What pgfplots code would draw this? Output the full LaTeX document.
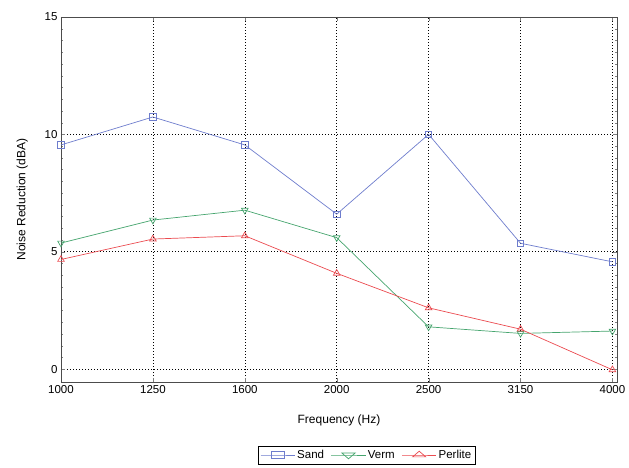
\documentclass[border=0pt]{standalone}
\usepackage{pgfplots}
\pgfplotsset{compat=1.18}
\usepackage{fontspec}
\setmainfont{Liberation Sans}
\definecolor{sandc}{RGB}{110,125,205}
\definecolor{vermc}{RGB}{70,165,110}
\definecolor{perlc}{RGB}{235,75,80}
\begin{document}
\begin{tikzpicture}
\begin{axis}[
  name=ax,
  scale only axis,
  width=556pt, height=365pt,
  xmin=0, xmax=6.05,
  ymin=-0.55, ymax=15,
  xtick={0,1,2,3,4,5,6},
  xticklabels={1000,1250,1600,2000,2500,3150,4000},
  ytick={0,5,10,15},
  minor y tick num=9,
  tick align=inside,
  major tick length=4pt,
  minor tick length=2pt,
  axis line style={black!70, line width=0.8pt},
  grid=major,
  grid style={black, dash pattern=on 1pt off 2pt, line width=0.6pt},
  tick label style={font=\fontsize{11.5}{12}\selectfont},
  /pgf/number format/assume math mode=true,
  xlabel={Frequency (Hz)},
  ylabel={Noise Reduction (dBA)},
  label style={font=\fontsize{12}{13}\selectfont},
  xlabel style={yshift=-14pt},
  ylabel style={yshift=10pt},
  legend style={at={(0.55,-0.175)}, anchor=north, legend columns=-1,
    font=\fontsize{11.5}{12}\selectfont, draw=black, inner sep=2pt,
    /tikz/every even column/.append style={column sep=5pt}},
  legend image post style={xscale=2.0},
]
\addplot[sandc, line width=0.7pt, mark=square, mark size=3.2pt] coordinates {
(0,9.55) (1,10.74) (2,9.55) (3,6.6) (4,10.0) (5,5.36) (6,4.57)};
\addlegendentry{Sand}
\addplot[vermc, line width=0.7pt, mark=triangle, mark options={rotate=180}, mark size=3.8pt] coordinates {
(0,5.37) (1,6.35) (2,6.77) (3,5.6) (4,1.8) (5,1.52) (6,1.62)};
\addlegendentry{Verm}
\addplot[perlc, line width=0.7pt, mark=triangle, mark size=3.8pt] coordinates {
(0,4.67) (1,5.54) (2,5.68) (3,4.08) (4,2.61) (5,1.7) (6,-0.03)};
\addlegendentry{Perlite}
\end{axis}
\path ([xshift=-61pt,yshift=-86pt]ax.south west) rectangle ([xshift=12pt,yshift=17pt]ax.north east);
\end{tikzpicture}
\end{document}
